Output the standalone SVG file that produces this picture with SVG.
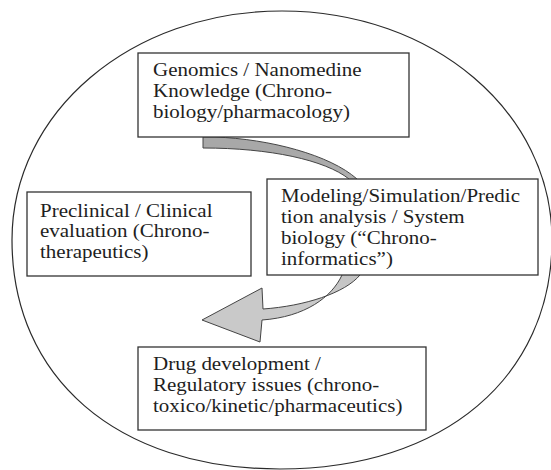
<svg xmlns="http://www.w3.org/2000/svg" width="551" height="470" viewBox="0 0 551 470">
<style>
.box{fill:#fff;stroke:#333;stroke-width:1.3}
.t{font-family:"Liberation Serif","Times New Roman",serif;font-size:19.5px;fill:#1e1e1e}
.outline{fill:none;stroke:#2a2a2a;stroke-width:1.2}
.arrow{stroke:#444;stroke-width:1;stroke-linejoin:miter}
</style>
<defs>
<linearGradient id="g" gradientUnits="userSpaceOnUse" x1="0" y1="150" x2="0" y2="300">
<stop offset="0" stop-color="#a8a8a8"/>
<stop offset="1" stop-color="#c9c9c9"/>
</linearGradient>
</defs>
<rect width="551" height="470" fill="#fff"/>
<path id="cycle" class="outline" d="M12 240 C12 112 131 11 282 11 C433 11 552 112 552 240 C552 377 444 469 280 469 C116 469 12 377 12 240 Z"/>
<g id="connectors">
<path class="arrow" fill="url(#g)" d="M203 137 L215 137 C270 139 330 155 357 179 C372 205 375 250 360 275 C345 293 305 306 263 309 L262 288 L202 320 L260 342 L262 320 C305 317 332 297 342 275 C355 250 360 205 349 179 C325 160 270 148 203 148 Z"/>
</g>
<g id="genomics">
<rect class="box" x="138" y="53" width="271" height="84"/>
<text class="t" transform="translate(153 76) scale(1.077 1)"><tspan x="0" y="0">Genomics / Nanomedine</tspan><tspan x="0" y="21">Knowledge (Chrono-</tspan><tspan x="0" y="42">biology/pharmacology)</tspan></text>
</g>
<g id="preclinical">
<rect class="box" x="27" y="192" width="224" height="84"/>
<text class="t" transform="translate(40 216.5) scale(1.077 1)"><tspan x="0" y="0">Preclinical / Clinical</tspan><tspan x="0" y="21">evaluation (Chrono-</tspan><tspan x="0" y="42">therapeutics)</tspan></text>
</g>
<g id="modeling">
<rect class="box" x="267" y="179" width="271" height="96"/>
<text class="t" transform="translate(281 201.5) scale(1.077 1)"><tspan x="0" y="0">Modeling/Simulation/Predic</tspan><tspan x="0" y="21.3">tion analysis / System</tspan><tspan x="0" y="42.6">biology (“Chrono-</tspan><tspan x="0" y="63.9">informatics”)</tspan></text>
</g>
<g id="drug">
<rect class="box" x="138" y="347" width="288" height="83"/>
<text class="t" transform="translate(153 370) scale(1.077 1)"><tspan x="0" y="0">Drug development /</tspan><tspan x="0" y="21">Regulatory issues (chrono-</tspan><tspan x="0" y="42">toxico/kinetic/pharmaceutics)</tspan></text>
</g>
</svg>
